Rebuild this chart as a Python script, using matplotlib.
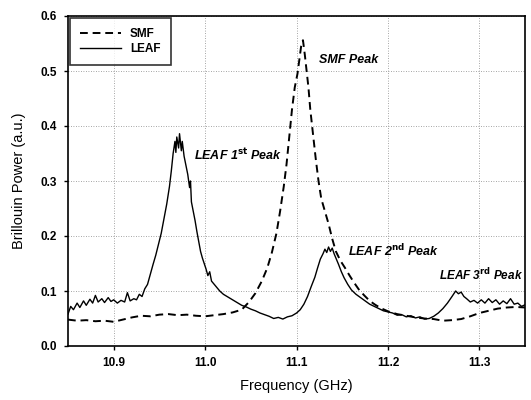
import matplotlib
matplotlib.use("Agg")
import matplotlib.pyplot as plt

plt.rcParams["font.family"] = ["Liberation Sans", "DejaVu Sans"]

# LEAF fibre (solid)
leaf_freq = [
    10.850, 10.853, 10.856, 10.860, 10.863, 10.867, 10.870, 10.874, 10.877, 10.880,
    10.883, 10.887, 10.890, 10.894, 10.897, 10.900, 10.904, 10.908, 10.912, 10.915,
    10.918, 10.922, 10.925, 10.928, 10.931, 10.934, 10.937, 10.940, 10.943, 10.946,
    10.949, 10.952, 10.955, 10.958, 10.961, 10.963, 10.965, 10.967, 10.968, 10.969,
    10.971, 10.972, 10.974, 10.975, 10.977, 10.979, 10.981, 10.983, 10.984, 10.985,
    10.987, 10.989, 10.991, 10.993, 10.995, 10.997, 10.999, 11.001, 11.003, 11.005,
    11.007, 11.010, 11.013, 11.016, 11.020, 11.024, 11.028, 11.032, 11.036, 11.040,
    11.045, 11.050, 11.055, 11.060, 11.065, 11.070, 11.075, 11.080, 11.085, 11.090,
    11.095, 11.100, 11.104, 11.108, 11.112, 11.116, 11.120, 11.123, 11.126, 11.129,
    11.131, 11.133, 11.135, 11.137, 11.139, 11.141, 11.143, 11.146, 11.149, 11.152,
    11.156, 11.160, 11.165, 11.170, 11.175, 11.180, 11.185, 11.190, 11.195, 11.200,
    11.205, 11.210, 11.215, 11.220, 11.225, 11.230, 11.235, 11.240, 11.245, 11.250,
    11.255, 11.260, 11.265, 11.270, 11.274, 11.277, 11.280, 11.283, 11.286, 11.290,
    11.294, 11.298, 11.302, 11.306, 11.310, 11.314, 11.318, 11.322, 11.326, 11.330,
    11.334, 11.338, 11.342, 11.346, 11.350,
]
leaf_power = [
    0.058, 0.072, 0.066, 0.078, 0.070, 0.082, 0.074, 0.085, 0.078, 0.092,
    0.080, 0.086, 0.079, 0.088, 0.081, 0.084, 0.078, 0.083, 0.080, 0.097,
    0.082, 0.086, 0.084, 0.094, 0.090, 0.104, 0.112, 0.130, 0.148, 0.165,
    0.185, 0.205, 0.232, 0.258, 0.290, 0.318, 0.350, 0.372, 0.352, 0.380,
    0.360, 0.386, 0.355, 0.372, 0.345, 0.328, 0.312, 0.288, 0.300, 0.262,
    0.245, 0.228, 0.208, 0.190, 0.172, 0.160, 0.150, 0.140, 0.128, 0.135,
    0.118, 0.112, 0.106, 0.100, 0.094, 0.090, 0.086, 0.082, 0.078, 0.074,
    0.071, 0.067, 0.064, 0.060, 0.057, 0.054, 0.050, 0.052, 0.049, 0.053,
    0.055, 0.060, 0.066, 0.076, 0.090, 0.108, 0.125, 0.142, 0.158, 0.168,
    0.176, 0.170, 0.180, 0.172, 0.178, 0.168, 0.160, 0.148, 0.135, 0.124,
    0.112, 0.102, 0.094, 0.088, 0.082, 0.076, 0.072, 0.068, 0.064, 0.062,
    0.060, 0.056, 0.057, 0.053, 0.055, 0.051, 0.053, 0.049, 0.050, 0.054,
    0.060, 0.068, 0.078, 0.090, 0.100, 0.095, 0.098, 0.090, 0.086, 0.080,
    0.083, 0.078, 0.084, 0.078, 0.086, 0.079, 0.084, 0.076, 0.082, 0.077,
    0.086, 0.076, 0.078, 0.072, 0.075,
]

# SMF fibre (dashed)
smf_freq = [
    10.850, 10.860, 10.870, 10.880, 10.890, 10.900, 10.910, 10.920, 10.930, 10.940,
    10.950, 10.960, 10.970, 10.980, 10.990, 11.000, 11.010, 11.020, 11.030, 11.040,
    11.048, 11.055, 11.062, 11.068, 11.073, 11.078, 11.082, 11.086, 11.089, 11.092,
    11.095, 11.098, 11.101, 11.103, 11.105, 11.107, 11.109, 11.111, 11.113, 11.115,
    11.118, 11.121, 11.124, 11.127, 11.131, 11.135, 11.139, 11.143, 11.148, 11.153,
    11.158, 11.163, 11.168, 11.174, 11.180, 11.186, 11.192, 11.200, 11.210, 11.220,
    11.230, 11.240, 11.250, 11.260, 11.270, 11.280, 11.290, 11.300, 11.310, 11.320,
    11.330, 11.340, 11.350,
]
smf_power = [
    0.048, 0.046, 0.047, 0.045, 0.046, 0.044, 0.048, 0.052, 0.055, 0.054,
    0.057, 0.058, 0.056, 0.057, 0.055, 0.054, 0.056, 0.058, 0.061, 0.066,
    0.080, 0.096, 0.118, 0.142, 0.170, 0.205, 0.245, 0.290, 0.330, 0.380,
    0.430, 0.470, 0.495, 0.520, 0.545, 0.556, 0.530, 0.500, 0.470, 0.430,
    0.385, 0.340, 0.300, 0.268, 0.245, 0.222, 0.195, 0.172, 0.155, 0.142,
    0.128, 0.115, 0.103, 0.092, 0.082, 0.075, 0.069, 0.063, 0.058, 0.055,
    0.052, 0.050, 0.049, 0.046, 0.047, 0.049, 0.054, 0.060, 0.064, 0.068,
    0.070, 0.071, 0.070,
]

x_ticks = [10.9, 11.0, 11.1, 11.2, 11.3]
y_ticks = [0.0, 0.1, 0.2, 0.3, 0.4, 0.5, 0.6]

fig = plt.figure(figsize=(5.31, 4.0), dpi=100)
ax = fig.add_axes([0.128, 0.135, 0.861, 0.825])

ax.plot(smf_freq, smf_power, color="black", linestyle=(0, (4, 2.5)), linewidth=1.4, label="SMF")
ax.plot(leaf_freq, leaf_power, color="black", linestyle="-", linewidth=1.0, label="LEAF")

ax.set_xlim(10.85, 11.35)
ax.set_ylim(0.0, 0.6)
ax.set_xticks(x_ticks)
ax.set_xticklabels([f"{v:.1f}" for v in x_ticks], fontweight="bold", fontsize=8.5)
ax.set_yticks(y_ticks)
ax.set_yticklabels([f"{v:.1f}" for v in y_ticks], fontweight="bold", fontsize=8.5)
ax.tick_params(direction="out", length=3, width=1, pad=5)

ax.grid(True, linestyle=(0, (1, 2)), color="#888888", linewidth=0.6)
for s in ax.spines.values():
    s.set_linewidth(1.2)

ax.set_xlabel("Frequency (GHz)", fontsize=10.5, labelpad=7)
ax.set_ylabel("Brillouin Power (a.u.)", fontsize=10.5, labelpad=10)

notes = [
    (11.124, 0.515, "SMF Peak", 9),
    (10.988, 0.338, r"LEAF 1$^{\mathbf{st}}$ Peak", 9),
    (11.156, 0.163, r"LEAF 2$^{\mathbf{nd}}$ Peak", 9),
    (11.256, 0.120, r"LEAF 3$^{\mathbf{rd}}$ Peak", 8.5),
]
for x, y, t, fs in notes:
    ax.text(x, y, t, fontsize=fs, fontweight="bold", fontstyle="italic", clip_on=False)

leg = ax.legend(loc="upper left", prop={"weight": "bold", "size": 8.5},
                frameon=True, fancybox=False, edgecolor="black", borderaxespad=0.15,
                handlelength=3.4, handletextpad=0.8, borderpad=0.9, labelspacing=0.2)
leg.get_frame().set_linewidth(1.2)

fig.savefig("out.png", dpi=100)
